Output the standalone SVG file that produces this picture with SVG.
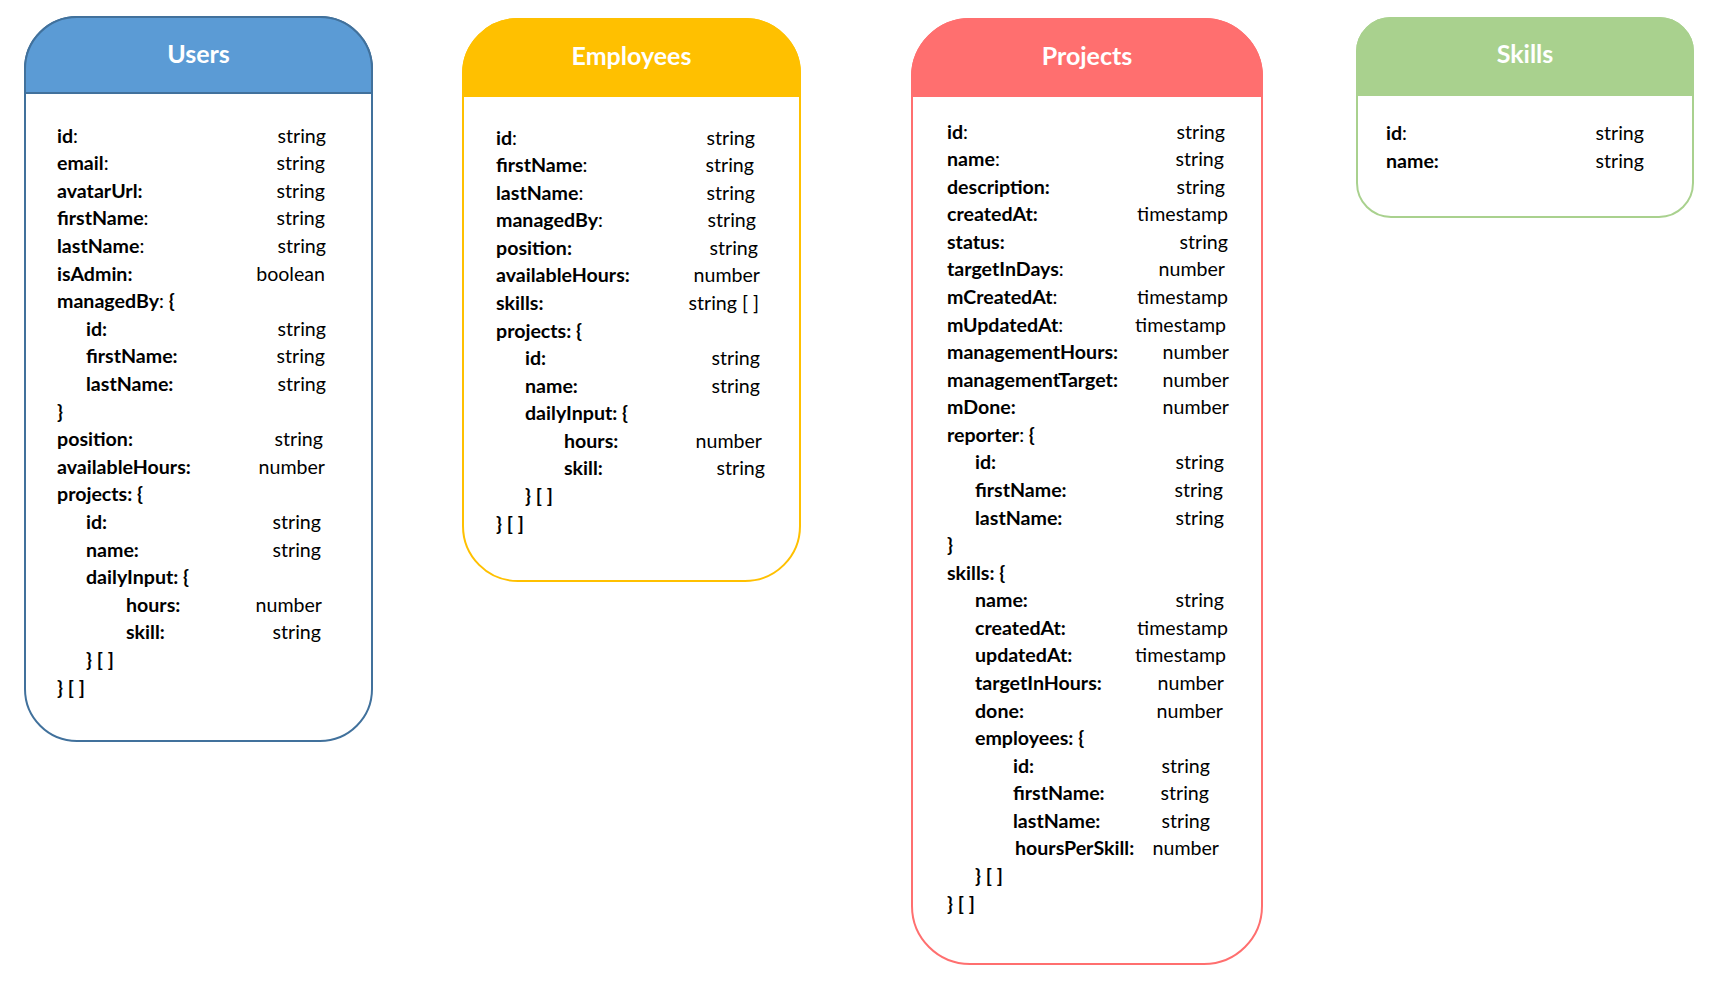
<svg xmlns="http://www.w3.org/2000/svg" width="1722" height="995" viewBox="0 0 1722 995">
<style>
text{font-family:Lato,"Open Sans","Liberation Sans",sans-serif;font-size:19.6px;fill:#000}
.k{font-weight:bold}
.r{font-weight:normal}
.v{text-anchor:end;font-weight:normal}
.t{font-size:25px;font-weight:bold;fill:#fff;text-anchor:middle}
.box{fill:#fff;stroke-width:2}
</style>
<rect width="1722" height="995" fill="#fff"/>
<g id="connectors"/>
<g id="users">
<rect class="box" x="25" y="17" width="347" height="724" rx="52" stroke="#41719C"/>
<path d="M25,93 V69 A52,52 0 0 1 77,17 H320 A52,52 0 0 1 372,69 V93 Z" fill="#5B9BD5" stroke="#41719C" stroke-width="2"/>
<text class="t" x="198.5" y="63">Users</text>
<g class="k">
<text x="57" y="142.5"><tspan class="k">id</tspan><tspan class="r">:</tspan></text>
<text x="57" y="170.1">email<tspan class="r">:</tspan></text>
<text x="57" y="197.7">avatarUrl:</text>
<text x="57" y="225.3">firstName<tspan class="r">:</tspan></text>
<text x="57" y="252.9">lastName<tspan class="r">:</tspan></text>
<text x="57" y="280.5">isAdmin:</text>
<text x="57" y="308.1">managedBy<tspan class="r">:</tspan> {</text>
<text x="86" y="335.7">id:</text>
<text x="86" y="363.3">firstName:</text>
<text x="86" y="390.9">lastName:</text>
<text x="57" y="418.5">}</text>
<text x="57" y="446.1">position:</text>
<text x="57" y="473.7">availableHours:</text>
<text x="57" y="501.3">projects: {</text>
<text x="86" y="528.9">id:</text>
<text x="86" y="556.5">name:</text>
<text x="86" y="584.1">dailyInput: {</text>
<text x="126" y="611.7">hours:</text>
<text x="126" y="639.3">skill:</text>
<text x="86" y="666.9">} [ ]</text>
<text x="57" y="694.5">} [ ]</text>
</g>
<text class="v" x="326" y="142.5">string</text>
<text class="v" x="325" y="170.1">string</text>
<text class="v" x="325" y="197.7">string</text>
<text class="v" x="325" y="225.3">string</text>
<text class="v" x="326" y="252.9">string</text>
<text class="v" x="325" y="280.5">boolean</text>
<text class="v" x="326" y="335.7">string</text>
<text class="v" x="325" y="363.3">string</text>
<text class="v" x="326" y="390.9">string</text>
<text class="v" x="323" y="446.1">string</text>
<text class="v" x="325" y="473.7">number</text>
<text class="v" x="321" y="528.9">string</text>
<text class="v" x="321" y="556.5">string</text>
<text class="v" x="322" y="611.7">number</text>
<text class="v" x="321" y="639.3">string</text>
</g>
<g id="employees">
<rect class="box" x="463" y="19" width="337" height="562" rx="55" stroke="#FFC000"/>
<path d="M463,96 V74 A55,55 0 0 1 518,19 H745 A55,55 0 0 1 800,74 V96 Z" fill="#FFC000" stroke="#FFC000" stroke-width="2"/>
<text class="t" x="631.5" y="65">Employees</text>
<g class="k">
<text x="496" y="144.5">id<tspan class="r">:</tspan></text>
<text x="496" y="172.1">firstName<tspan class="r">:</tspan></text>
<text x="496" y="199.6">lastName<tspan class="r">:</tspan></text>
<text x="496" y="227.2">managedBy<tspan class="r">:</tspan></text>
<text x="496" y="254.8">position:</text>
<text x="496" y="282.4">availableHours:</text>
<text x="496" y="309.9">skills:</text>
<text x="496" y="337.5">projects: {</text>
<text x="525" y="365.1">id:</text>
<text x="525" y="392.6">name:</text>
<text x="525" y="420.2">dailyInput: {</text>
<text x="564" y="447.8">hours:</text>
<text x="564" y="475.3">skill:</text>
<text x="525" y="502.9">} [ ]</text>
<text x="496" y="530.5">} [ ]</text>
</g>
<text class="v" x="755" y="144.5">string</text>
<text class="v" x="754" y="172.1">string</text>
<text class="v" x="755" y="199.6">string</text>
<text class="v" x="756" y="227.2">string</text>
<text class="v" x="758" y="254.8">string</text>
<text class="v" x="760" y="282.4">number</text>
<text class="v" x="759" y="309.9">string [ ]</text>
<text class="v" x="760" y="365.1">string</text>
<text class="v" x="760" y="392.6">string</text>
<text class="v" x="762" y="447.8">number</text>
<text class="v" x="765" y="475.3">string</text>
</g>
<g id="projects">
<rect class="box" x="912" y="19" width="350" height="945" rx="58" stroke="#FF6F6F"/>
<path d="M912,96 V77 A58,58 0 0 1 970,19 H1204 A58,58 0 0 1 1262,77 V96 Z" fill="#FF6F6F" stroke="#FF6F6F" stroke-width="2"/>
<text class="t" x="1087" y="65">Projects</text>
<g class="k">
<text x="947" y="138.5">id<tspan class="r">:</tspan></text>
<text x="947" y="166.1">name<tspan class="r">:</tspan></text>
<text x="947" y="193.6">description:</text>
<text x="947" y="221.2">createdAt:</text>
<text x="947" y="248.8">status:</text>
<text x="947" y="276.4">targetInDays<tspan class="r">:</tspan></text>
<text x="947" y="303.9">mCreatedAt<tspan class="r">:</tspan></text>
<text x="947" y="331.5">mUpdatedAt<tspan class="r">:</tspan></text>
<text x="947" y="359.1">managementHours:</text>
<text x="947" y="386.6">managementTarget:</text>
<text x="947" y="414.2">mDone:</text>
<text x="947" y="441.8">reporter<tspan class="r">:</tspan> {</text>
<text x="975" y="469.3">id:</text>
<text x="975" y="496.9">firstName:</text>
<text x="975" y="524.5">lastName:</text>
<text x="947" y="552.1">}</text>
<text x="947" y="579.6">skills: {</text>
<text x="975" y="607.2">name:</text>
<text x="975" y="634.8">createdAt:</text>
<text x="975" y="662.3">updatedAt:</text>
<text x="975" y="689.9">targetInHours:</text>
<text x="975" y="717.5">done:</text>
<text x="975" y="745">employees: {</text>
<text x="1013" y="772.6">id:</text>
<text x="1013" y="800.2">firstName:</text>
<text x="1013" y="827.8">lastName:</text>
<text x="1015" y="855.3">hoursPerSkill:</text>
<text x="975" y="882.9">} [ ]</text>
<text x="947" y="910.5">} [ ]</text>
</g>
<text class="v" x="1225" y="138.5">string</text>
<text class="v" x="1224" y="166.1">string</text>
<text class="v" x="1225" y="193.6">string</text>
<text class="v" x="1228" y="221.2">timestamp</text>
<text class="v" x="1228" y="248.8">string</text>
<text class="v" x="1225" y="276.4">number</text>
<text class="v" x="1228" y="303.9">timestamp</text>
<text class="v" x="1226" y="331.5">timestamp</text>
<text class="v" x="1229" y="359.1">number</text>
<text class="v" x="1229" y="386.6">number</text>
<text class="v" x="1229" y="414.2">number</text>
<text class="v" x="1224" y="469.3">string</text>
<text class="v" x="1223" y="496.9">string</text>
<text class="v" x="1224" y="524.5">string</text>
<text class="v" x="1224" y="607.2">string</text>
<text class="v" x="1228" y="634.8">timestamp</text>
<text class="v" x="1226" y="662.3">timestamp</text>
<text class="v" x="1224" y="689.9">number</text>
<text class="v" x="1223" y="717.5">number</text>
<text class="v" x="1210" y="772.6">string</text>
<text class="v" x="1209" y="800.2">string</text>
<text class="v" x="1210" y="827.8">string</text>
<text class="v" x="1219" y="855.3">number</text>
</g>
<g id="skills">
<rect class="box" x="1357" y="18" width="336" height="199" rx="34" stroke="#A9D18E"/>
<path d="M1357,95 V52 A34,34 0 0 1 1391,18 H1659 A34,34 0 0 1 1693,52 V95 Z" fill="#A9D18E" stroke="#A9D18E" stroke-width="2"/>
<text class="t" x="1525" y="63">Skills</text>
<g class="k">
<text x="1386" y="139.5">id<tspan class="r">:</tspan></text>
<text x="1386" y="167.5">name:</text>
</g>
<text class="v" x="1644" y="139.5">string</text>
<text class="v" x="1644" y="167.5">string</text>
</g>
</svg>
